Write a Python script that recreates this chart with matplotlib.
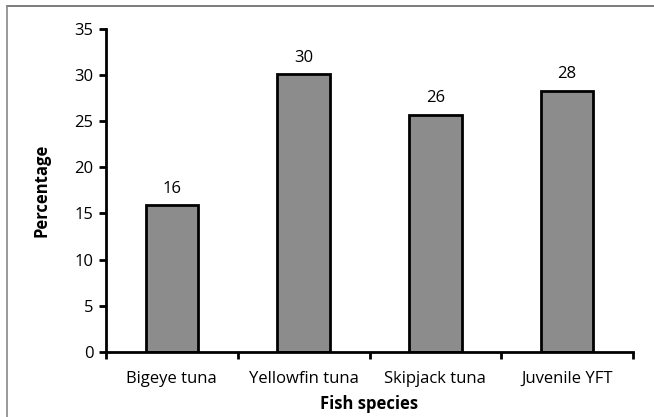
import matplotlib
matplotlib.use("Agg")
from matplotlib import pyplot as plt
from matplotlib.lines import Line2D

species = ['Bigeye tuna', 'Yellowfin tuna', 'Skipjack tuna', 'Juvenile YFT']
percent = [15.9, 30.1, 25.7, 28.3]
labels = ['16', '30', '26', '28']

plt.rcParams['font.family'] = ['Open Sans', 'DejaVu Sans']
fs = 12

fig = plt.figure(figsize=(6.54, 4.17), dpi=100)
ax = fig.add_axes([106/654, 1 - 351.7/417, 527/654, 322.7/417])

x = range(len(species))
bars = ax.bar(x, percent, width=0.4, color='#8c8c8c', edgecolor='black', linewidth=2)
for b, t in zip(bars, labels):
    ax.annotate(t, (b.get_x() + b.get_width()/2, b.get_height()),
                xytext=(0, 6), textcoords='offset points',
                ha='center', va='bottom', fontsize=fs)

ax.set_xlim(-0.5, len(species) - 0.5)
ax.set_ylim(0, 35)
ax.set_yticks(range(0, 36, 5))
ax.set_xticks([i - 0.5 for i in range(len(species) + 1)], minor=False)
ax.set_xticklabels([])
ax.set_xticks(list(x), minor=True)
ax.set_xticklabels(species, minor=True)
ax.tick_params(axis='x', which='minor', length=0, pad=14, labelsize=fs)
ax.tick_params(axis='x', which='major', length=5, width=2, direction='out')
ax.tick_params(axis='y', length=5, width=2, direction='out', labelsize=fs, pad=4)

for s in ['top', 'right']:
    ax.spines[s].set_visible(False)
for s in ['left', 'bottom']:
    ax.spines[s].set_linewidth(2)

ax.set_ylabel('Percentage', fontweight='bold', fontsize=fs, labelpad=17)
ax.set_xlabel('Fish species', fontweight='bold', fontsize=fs, labelpad=6)

# chart-area border (top and left only visible)
fig.add_artist(Line2D([7/654, 1], [1 - 6/417, 1 - 6/417], transform=fig.transFigure, color='#666666', lw=1.2))
fig.add_artist(Line2D([7/654, 7/654], [0, 1 - 6/417], transform=fig.transFigure, color='#888888', lw=1.2))

fig.savefig('out.png', dpi=100)
